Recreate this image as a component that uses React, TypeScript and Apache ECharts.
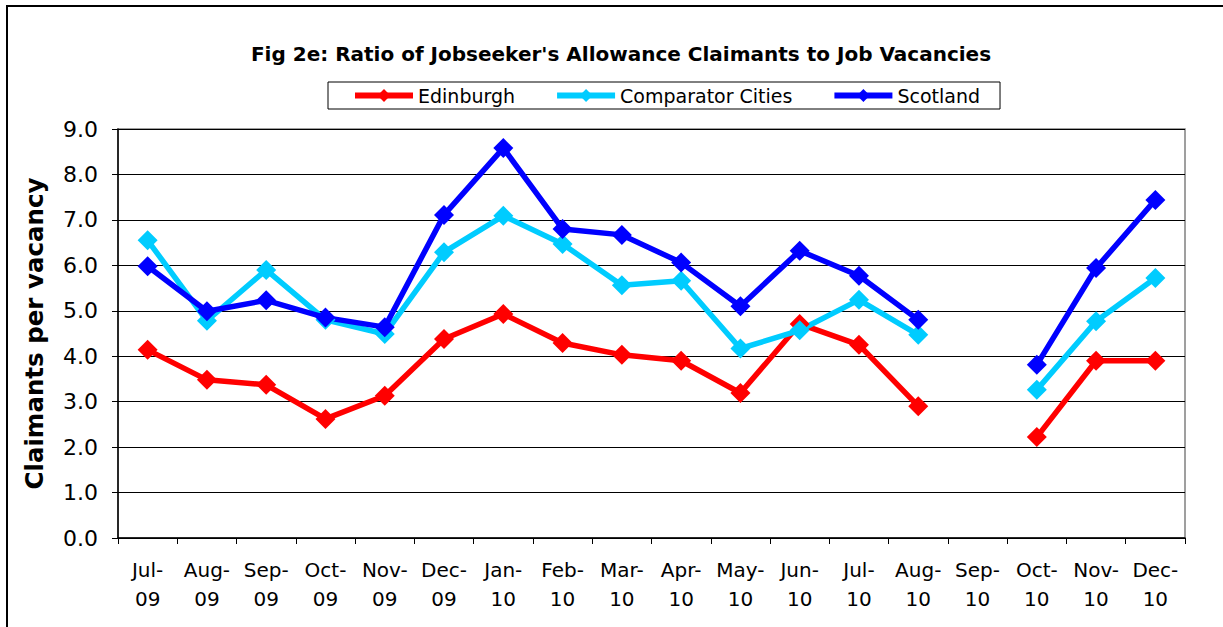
import React, { useEffect, useRef } from "react";
import * as echarts from "echarts";

const categories = [
  "Jul-\n09", "Aug-\n09", "Sep-\n09", "Oct-\n09", "Nov-\n09", "Dec-\n09",
  "Jan-\n10", "Feb-\n10", "Mar-\n10", "Apr-\n10", "May-\n10", "Jun-\n10",
  "Jul-\n10", "Aug-\n10", "Sep-\n10", "Oct-\n10", "Nov-\n10", "Dec-\n10",
];

const edinburgh = [4.14, 3.48, 3.37, 2.62, 3.13, 4.38, 4.93, 4.29, 4.03, 3.9, 3.19, 4.71, 4.25, 2.9, null, 2.22, 3.9, 3.9];
const comparatorCities = [6.55, 4.78, 5.9, 4.8, 4.49, 6.29, 7.09, 6.47, 5.56, 5.66, 4.17, 4.57, 5.24, 4.47, null, 3.26, 4.77, 5.72];
const scotland = [5.98, 4.99, 5.23, 4.85, 4.64, 7.11, 8.58, 6.8, 6.67, 6.06, 5.1, 6.32, 5.77, 4.8, null, 3.81, 5.94, 7.44];

const FONT = "'DejaVu Sans', 'Liberation Sans', Arial, sans-serif";

export default function App() {
  const ref = useRef<HTMLDivElement>(null);
  useEffect(() => {
    if (!ref.current) return;
    const chart = echarts.init(ref.current, null, { renderer: "svg" });
    const mkSeries = (name: string, data: (number | null)[], color: string) => ({
      name,
      type: "line",
      data,
      symbol: "diamond",
      symbolSize: 20,
      lineStyle: { color, width: 5.5 },
      itemStyle: { color },
      connectNulls: false,
    });
    chart.setOption({
      animation: false,
      textStyle: { fontFamily: FONT },
      graphic: [
        {
          type: "rect",
          shape: { x: 7, y: 6, width: 1300, height: 700 },
          style: { fill: "none", stroke: "#000", lineWidth: 2 },
          silent: true,
        },
      ],
      title: {
        text: "Fig 2e: Ratio of Jobseeker's Allowance Claimants to Job Vacancies",
        left: 616,
        textAlign: "center",
        top: 39,
        textStyle: { fontFamily: FONT, fontSize: 20, fontWeight: "bold", color: "#000" },
      },
      legend: {
        left: 328,
        top: 82,
        itemWidth: 58,
        itemHeight: 16,
        itemGap: 39,
        padding: [4, 20, 4, 24],
        borderColor: "#000",
        borderWidth: 1,
        lineStyle: { width: 6 },
        textStyle: { fontFamily: FONT, fontSize: 19, color: "#000" },
        data: ["Edinburgh", "Comparator Cities", "Scotland"],
      },
      grid: {
        left: 118,
        right: 38,
        top: 129,
        bottom: 89,
        show: true,
        borderColor: "#808080",
        borderWidth: 1.5,
      },
      xAxis: {
        type: "category",
        data: categories,
        boundaryGap: true,
        axisLine: { lineStyle: { color: "#000", width: 1.5 } },
        axisTick: { show: true, length: 6, inside: false, lineStyle: { color: "#000" } },
        axisLabel: {
          fontFamily: FONT,
          fontSize: 20,
          lineHeight: 29,
          color: "#000",
          margin: 17,
          interval: 0,
        },
      },
      yAxis: {
        type: "value",
        min: 0,
        max: 9,
        interval: 1,
        name: "Claimants per vacancy",
        nameLocation: "middle",
        nameGap: 71,
        nameTextStyle: { fontFamily: FONT, fontSize: 24.5, fontWeight: "bold", color: "#000" },
        axisLine: { show: true, lineStyle: { color: "#000", width: 1.5 } },
        axisTick: { show: true, length: 6, lineStyle: { color: "#000" } },
        axisLabel: {
          fontFamily: FONT,
          fontSize: 22,
          color: "#000",
          margin: 20,
          formatter: (v: number) => v.toFixed(1),
        },
        splitLine: { show: true, lineStyle: { color: "#000", width: 1 } },
      },
      series: [
        mkSeries("Edinburgh", edinburgh, "#FF0000"),
        mkSeries("Comparator Cities", comparatorCities, "#00CCFF"),
        mkSeries("Scotland", scotland, "#0000FF"),
      ],
    });
    return () => chart.dispose();
  }, []);
  return (
    <div
      ref={ref}
      style={{ position: "absolute", left: 0, top: 0, width: 1223, height: 627, background: "#fff" }}
    />
  );
}
